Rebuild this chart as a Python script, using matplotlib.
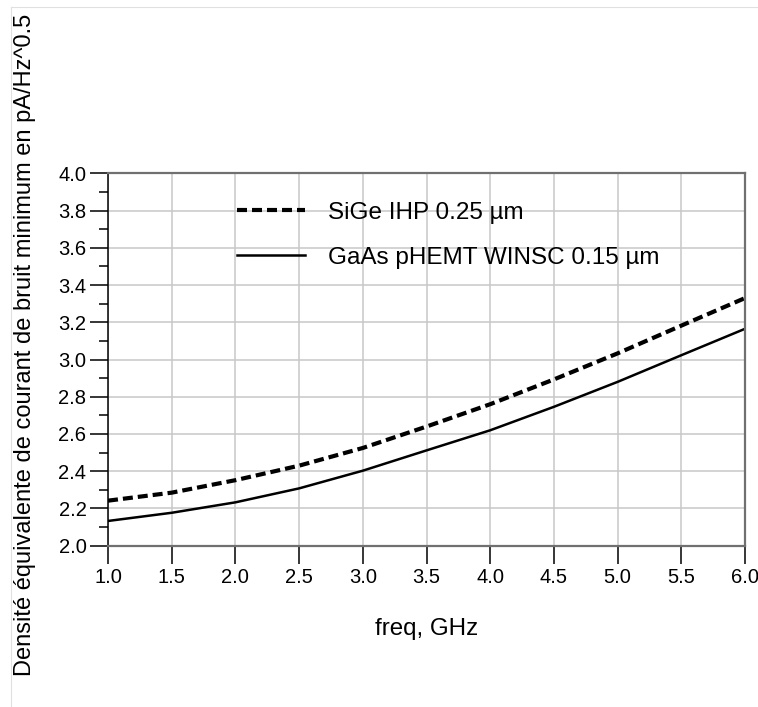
import numpy as np
import matplotlib.pyplot as plt
from matplotlib.lines import Line2D
from matplotlib.ticker import MultipleLocator

plt.rcParams['font.family'] = ['Liberation Sans', 'DejaVu Sans']

# donnees
freq = [1.0, 1.5, 2.0, 2.5, 3.0, 3.5, 4.0, 4.5, 5.0, 5.5, 6.0]
sige = [2.242, 2.285, 2.352, 2.430, 2.525, 2.640, 2.760, 2.893, 3.033, 3.182, 3.330]
gaas = [2.133, 2.177, 2.233, 2.308, 2.403, 2.512, 2.620, 2.746, 2.880, 3.023, 3.165]
labels = ["SiGe IHP 0.25 µm", "GaAs pHEMT WINSC 0.15 µm"]

fig = plt.figure(figsize=(7.58, 7.07), dpi=100)
ax = fig.add_axes([0.1425, 0.2281, 0.8404, 0.5268])

ax.plot(freq, sige, color='black', lw=3.0, ls=(0, (2.4, 1.2)), label=labels[0])
ax.plot(freq, gaas, color='black', lw=1.8, label=labels[1])

ax.set_xlim(1.0, 6.0)
ax.set_ylim(2.0, 4.0)
ax.xaxis.set_major_locator(MultipleLocator(0.5))
ax.yaxis.set_major_locator(MultipleLocator(0.2))
ax.yaxis.set_minor_locator(MultipleLocator(0.1))
ax.xaxis.set_major_formatter('{x:.1f}')
ax.yaxis.set_major_formatter('{x:.1f}')

ax.grid(True, which='major', color='#c8c8c8', lw=1.1)
ax.set_axisbelow(True)

for side in ['top', 'right', 'bottom']:
    ax.spines[side].set_color('#707070')
    ax.spines[side].set_linewidth(1.6)
ax.spines['left'].set_color('black')
ax.spines['left'].set_linewidth(1.1)

ax.tick_params(axis='both', which='major', direction='out', length=13, width=1.1,
               color='black', labelsize=14.5)
ax.tick_params(axis='y', which='minor', direction='out', length=6.5, width=1.1, color='black')
ax.tick_params(axis='y', which='major', pad=2.5)
ax.tick_params(axis='x', which='major', pad=3.3)

ax.set_xlabel("freq, GHz", fontsize=17.4)
ax.xaxis.set_label_coords(0.5, -0.194)
ax.set_ylabel("Densité équivalente de courant de bruit minimum en pA/Hz^0.5", fontsize=17)
ax.yaxis.set_label_coords(-0.113, 0.539)

ax.legend(loc='upper left', bbox_to_anchor=(0.2025, 0.923), frameon=False,
          fontsize=17.5, handlelength=2.8, handletextpad=0.95, labelspacing=0.94,
          borderpad=0, borderaxespad=0)

# cadre gris clair de la fenetre
fig.add_artist(Line2D([11 / 758, 1.0], [1 - 7 / 707, 1 - 7 / 707], color='#e0e0e0', lw=0.8))
fig.add_artist(Line2D([11 / 758, 11 / 758], [0.0, 1 - 7 / 707], color='#e0e0e0', lw=0.8))

fig.savefig('out.png', dpi=100)
